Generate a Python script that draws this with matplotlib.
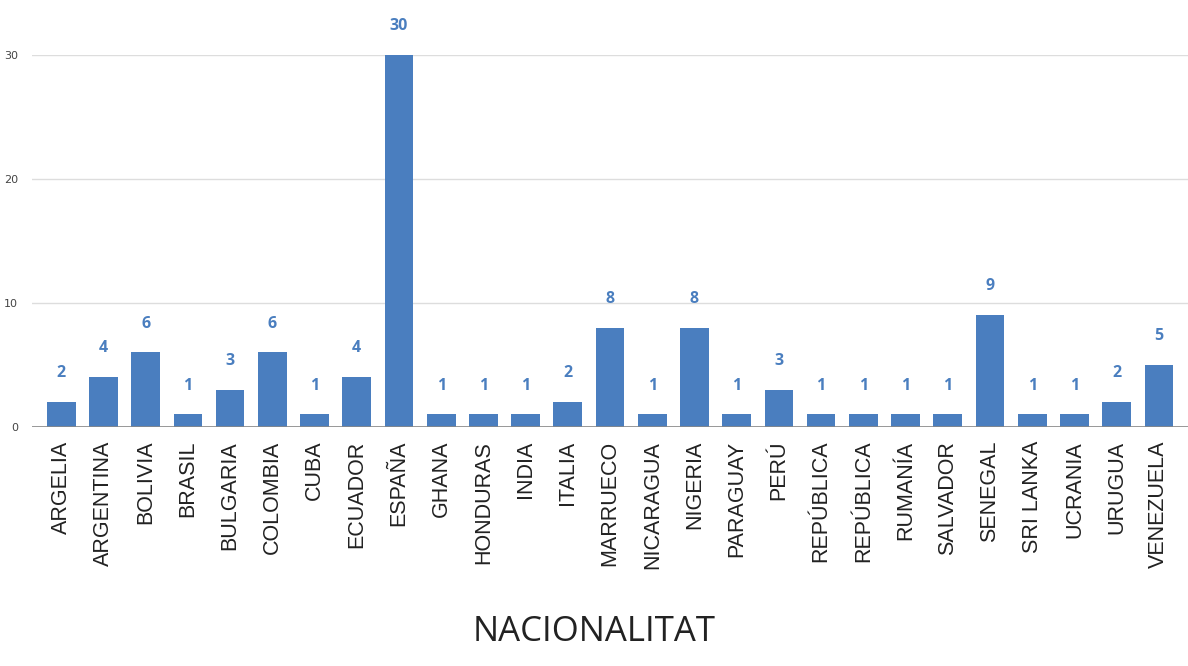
import matplotlib.pyplot as plt
import numpy as np

paises = ['ARGELIA', 'ARGENTINA', 'BOLIVIA', 'BRASIL', 'BULGARIA', 'COLOMBIA', 'CUBA',
          'ECUADOR', 'ESPAÑA', 'GHANA', 'HONDURAS', 'INDIA', 'ITALIA', 'MARRUECO',
          'NICARAGUA', 'NIGERIA', 'PARAGUAY', 'PERÚ', 'REPÚBLICA', 'REPÚBLICA',
          'RUMANÍA', 'SALVADOR', 'SENEGAL', 'SRI LANKA', 'UCRANIA', 'URUGUA', 'VENEZUELA']
valores = [2, 4, 6, 1, 3, 6, 1, 4, 30, 1, 1, 1, 2, 8, 1, 8, 1, 3, 1, 1, 1, 1, 9, 1, 1, 2, 5]
y_ticks = [0, 10, 20, 30]

blue = '#4a7ebf'

fig = plt.figure(figsize=(11.88, 6.66), dpi=100)
ax = fig.add_axes([0.027, 0.359, 0.973, 0.559])

x = np.arange(len(paises))
bars = ax.bar(x, valores, width=0.68, color=blue, zorder=3)

for rect, v in zip(bars, valores):
    ax.annotate(f'{v}',
                xy=(rect.get_x() + rect.get_width() / 2, rect.get_height()),
                xytext=(0, 15), textcoords='offset points',
                ha='center', va='bottom', color=blue, fontsize=11.5,
                fontweight='bold', family='Open Sans', annotation_clip=False)

ax.set_xlim(-0.69, len(paises) - 1 + 0.69)
ax.set_ylim(0, 30)
ax.set_yticks(y_ticks)
ax.set_yticklabels([str(t) for t in y_ticks], fontsize=8, color='#444444')
ax.yaxis.grid(True, color='#dddddd', linewidth=1, zorder=0)
ax.axhline(0, color='#888888', linewidth=1.2, zorder=4)

ax.set_xticks(x)
ax.set_xticklabels(paises, rotation=90, fontsize=15.5, family='Liberation Sans',
                   color='#222222')
ax.tick_params(axis='both', length=0)
ax.tick_params(axis='x', pad=10)
ax.tick_params(axis='y', pad=10)

for s in ax.spines.values():
    s.set_visible(False)

fig.text(0.5, 0.025, 'NACIONALITAT', ha='center', va='bottom', fontsize=25,
         family='Open Sans', color='#222222')

fig.savefig('out.png', dpi=100)
